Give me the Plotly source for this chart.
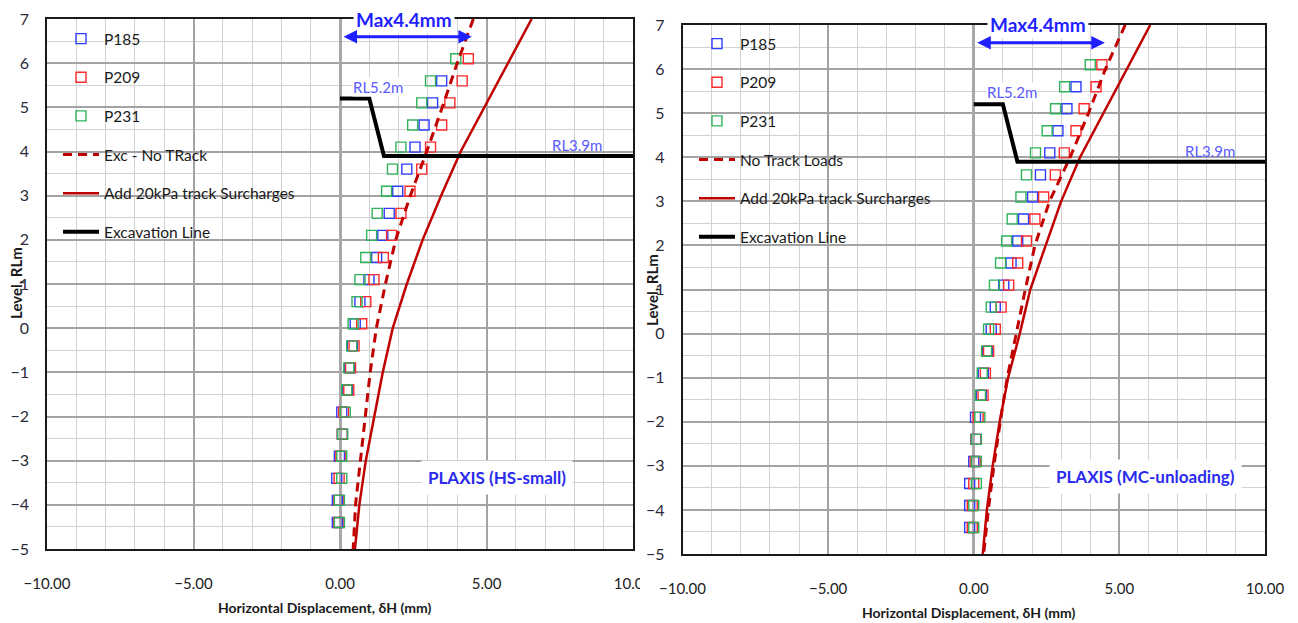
import plotly.graph_objects as go

# page body has an 8px default margin, so the figure is 8px smaller than the window
OFF = 8
W, H = 1298 - OFF, 623 - OFF

# ---------------- data ----------------
levels = [6.1, 5.6, 5.1, 4.6, 4.1, 3.6, 3.1, 2.6, 2.1, 1.6, 1.1, 0.6, 0.1,
          -0.4, -0.9, -1.4, -1.9, -2.4, -2.9, -3.4, -3.9, -4.4]

# left chart: PLAXIS (HS-small)
p185_left = [None, 3.47, 3.16, 2.87, 2.56, 2.28, 1.97, 1.68, 1.46, 1.25, 0.99, 0.68, 0.52,
             0.42, 0.33, 0.26, 0.06, 0.08, -0.02, -0.11, -0.09, -0.09]
p209_left = [4.38, 4.17, 3.75, 3.47, 3.09, 2.79, 2.39, 2.08, 1.76, 1.48, 1.16, 0.88, 0.74,
             0.48, 0.36, 0.30, 0.12, 0.08, 0.03, -0.03, -0.04, -0.04]
p231_left = [3.95, 3.09, 2.79, 2.48, 2.08, 1.79, 1.59, 1.27, 1.08, 0.88, 0.68, 0.58, 0.45,
             0.40, 0.30, 0.23, 0.18, 0.09, 0.06, 0.06, -0.02, -0.02]

# right chart: PLAXIS (MC-unloading)
p185_right = [None, 3.51, 3.20, 2.89, 2.61, 2.29, 2.02, 1.71, 1.51, 1.28, 1.03, 0.74, 0.60,
              0.48, 0.33, 0.26, 0.06, 0.07, 0.00, -0.14, -0.14, -0.14]
p209_right = [4.40, 4.20, 3.79, 3.51, 3.11, 2.80, 2.40, 2.10, 1.81, 1.51, 1.20, 0.94, 0.74,
              0.51, 0.40, 0.32, 0.15, 0.08, 0.05, 0.00, -0.05, -0.05]
p231_right = [4.00, 3.12, 2.81, 2.52, 2.12, 1.81, 1.62, 1.32, 1.13, 0.92, 0.71, 0.60, 0.51,
              0.44, 0.29, 0.23, 0.21, 0.09, 0.09, 0.09, 0.00, 0.00]

line_levels = [7, 6, 5, 4, 3, 2, 1, 0, -1, -2, -3, -4, -5]
notrack_left = [4.55, 4.00, 3.49, 2.96, 2.40, 1.90, 1.55, 1.24, 1.03, 0.86, 0.69, 0.53, 0.45]
surch_left = [6.54, 5.73, 4.93, 4.12, 3.45, 2.82, 2.28, 1.80, 1.46, 1.16, 0.88, 0.66, 0.51]
notrack_right = [5.20, 4.52, 3.94, 3.31, 2.60, 2.10, 1.77, 1.46, 1.15, 0.91, 0.69, 0.50, 0.34]
surch_right = [6.06, 5.25, 4.45, 3.65, 3.00, 2.47, 1.94, 1.58, 1.18, 0.89, 0.65, 0.45, 0.31]

exc_x = [0.0, 1.0, 1.5, 10.0]
exc_y = [5.2, 5.2, 3.9, 3.9]

x_ticks = [-10, -5, 0, 5, 10]
y_ticks = list(range(-5, 8))

left_names = ["P185", "P209", "P231", "Exc - No TRack", "Add 20kPa track Surcharges", "Excavation Line"]
right_names = ["P185", "P209", "P231", "No Track Loads", "Add 20kPa track Surcharges", "Excavation Line"]

# ---------------- styling ----------------
FONT = "Lato, Carlito, Calibri, 'Open Sans', sans-serif"
BLUE, RED, GREEN = "#2f3cff", "#ff2a2a", "#2fb35a"
DARKRED = "#c00000"
ANN_BLUE = "#1f1fff"
RL_BLUE = "#5a5aff"

fig = go.Figure()


def add_chart(xa, ya, legend, names, p185, p209, p231, notrack, surch):
    mk = dict(symbol="square-open", size=10, line=dict(width=1.4))
    series = [(names[0], p185, BLUE), (names[1], p209, RED), (names[2], p231, GREEN)]
    for i, (nm, vals, col) in enumerate(series):
        fig.add_trace(go.Scatter(x=vals, y=levels, mode="markers", name=nm,
                                 marker=dict(color=col, **mk), xaxis=xa, yaxis=ya,
                                 legend=legend, legendgroup=legend + str(i)))
    fig.add_trace(go.Scatter(x=notrack, y=line_levels, mode="lines", name=names[3],
                             line=dict(color=DARKRED, width=3, dash="9px,6px"),
                             xaxis=xa, yaxis=ya, legend=legend, legendgroup=legend + "3"))
    fig.add_trace(go.Scatter(x=surch, y=line_levels, mode="lines", name=names[4],
                             line=dict(color=DARKRED, width=2.5),
                             xaxis=xa, yaxis=ya, legend=legend, legendgroup=legend + "4"))
    fig.add_trace(go.Scatter(x=exc_x, y=exc_y, mode="lines", name=names[5],
                             line=dict(color="black", width=4),
                             xaxis=xa, yaxis=ya, legend=legend, legendgroup=legend + "5"))


add_chart("x", "y", "legend", left_names, p185_left, p209_left, p231_left, notrack_left, surch_left)
add_chart("x2", "y2", "legend2", right_names, p185_right, p209_right, p231_right, notrack_right, surch_right)


def xaxis(domain, anchor):
    return dict(domain=domain, anchor=anchor, range=[-10, 10], tickvals=x_ticks,
                tickformat=".2f", showgrid=True, gridcolor="#a3a3a3", gridwidth=1.5,
                minor=dict(dtick=1, tick0=0, showgrid=True, gridcolor="#d2d2d2", gridwidth=1.2),
                zeroline=True, zerolinecolor="#a8a8a8", zerolinewidth=3,
                showline=True, linecolor="#1a1a1a", linewidth=1.5, mirror=True,
                ticks="", ticklabelstandoff=20, automargin=False,
                tickfont=dict(family=FONT, size=15, color="#222222"))


def yaxis(domain, anchor):
    return dict(domain=domain, anchor=anchor, range=[-5, 7], tickvals=y_ticks,
                showgrid=True, gridcolor="#a3a3a3", gridwidth=1.5,
                minor=dict(dtick=0.5, tick0=0, showgrid=True, gridcolor="#d2d2d2", gridwidth=1.2),
                zeroline=False,
                showline=True, linecolor="#1a1a1a", linewidth=1.5, mirror=True,
                ticks="", ticklabelstandoff=13, automargin=False,
                tickfont=dict(family=FONT, size=16, color="#2a2a3a"))


def px_x(p):
    return (p - OFF) / W


def px_y(p):
    return 1 - (p - OFF) / H


L_dom_x = [px_x(47), px_x(633)]
L_dom_y = [px_y(549), px_y(19)]
R_dom_x = [px_x(682.5), px_x(1265)]
R_dom_y = [px_y(554), px_y(25)]

legend_common = dict(bgcolor="rgba(0,0,0,0)", borderwidth=0, tracegroupgap=15.5,
                     font=dict(family=FONT, size=15.5, color="#1a1a1a"),
                     xanchor="left", yanchor="top", itemwidth=36)

fig.update_layout(
    width=W, height=H, autosize=False,
    margin=dict(l=0, r=0, t=0, b=0, autoexpand=False),
    paper_bgcolor="white", plot_bgcolor="white",
    font=dict(family=FONT),
    xaxis=xaxis(L_dom_x, "y"), yaxis=yaxis(L_dom_y, "x"),
    xaxis2=xaxis(R_dom_x, "y2"), yaxis2=yaxis(R_dom_y, "x2"),
    legend=dict(x=px_x(58), y=px_y(22), **legend_common),
    legend2=dict(x=px_x(694), y=px_y(27), **legend_common),
    showlegend=True,
)

annots = []
for xr, yr, plaxis_txt, plaxis_xy, xt_pos, yt_pos in [
    ("x", "y", "PLAXIS (HS-small)", (5.35, -3.39), (325, 607), (16, 283)),
    ("x2", "y2", "PLAXIS (MC-unloading)", (5.89, -3.24), (969, 612), (652, 290)),
]:
    annots += [
        dict(x=1.3, y=5.47, xref=xr, yref=yr, text="RL5.2m", showarrow=False,
             font=dict(family=FONT, size=15, color=RL_BLUE), bgcolor="white", borderpad=0),
        dict(x=8.1, y=4.14, xref=xr, yref=yr, text="RL3.9m", showarrow=False,
             font=dict(family=FONT, size=15, color=RL_BLUE)),
        dict(x=2.2, y=7.0, xref=xr, yref=yr, text="<b>Max4.4mm</b>", showarrow=False,
             font=dict(family=FONT, size=19, color=ANN_BLUE), bgcolor="white", borderpad=2),
        dict(x=4.5, y=6.6, ax=0.07, ay=6.6, xref=xr, yref=yr, axref=xr, ayref=yr,
             text="", showarrow=True, arrowhead=2, arrowside="end+start",
             arrowsize=0.9, arrowwidth=3, arrowcolor=ANN_BLUE),
        dict(x=plaxis_xy[0], y=plaxis_xy[1], xref=xr, yref=yr, text="<b>" + plaxis_txt + "</b>",
             showarrow=False, font=dict(family=FONT, size=17, color="#2b2bee"),
             bgcolor="white", borderpad=6),
        dict(x=px_x(xt_pos[0]), y=px_y(xt_pos[1]), xref="paper", yref="paper",
             xanchor="center", yanchor="middle",
             text="<b>Horizontal Displacement, δH (mm)</b>", showarrow=False,
             font=dict(family=FONT, size=14, color="#1a1a1a")),
        dict(x=px_x(yt_pos[0]), y=px_y(yt_pos[1]), xref="paper", yref="paper",
             xanchor="center", yanchor="middle",
             text="<b>Level, RLm</b>", showarrow=False, textangle=-90,
             font=dict(family=FONT, size=15, color="#1a1a1a")),
    ]
fig.update_layout(annotations=annots)

# the left panel is cropped at its right edge in the original composite image
fig.add_shape(type="rect", xref="paper", yref="paper",
              x0=px_x(640), x1=px_x(655), y0=px_y(600), y1=px_y(565),
              fillcolor="white", line=dict(width=0), layer="above")

fig.write_html("out.html")
